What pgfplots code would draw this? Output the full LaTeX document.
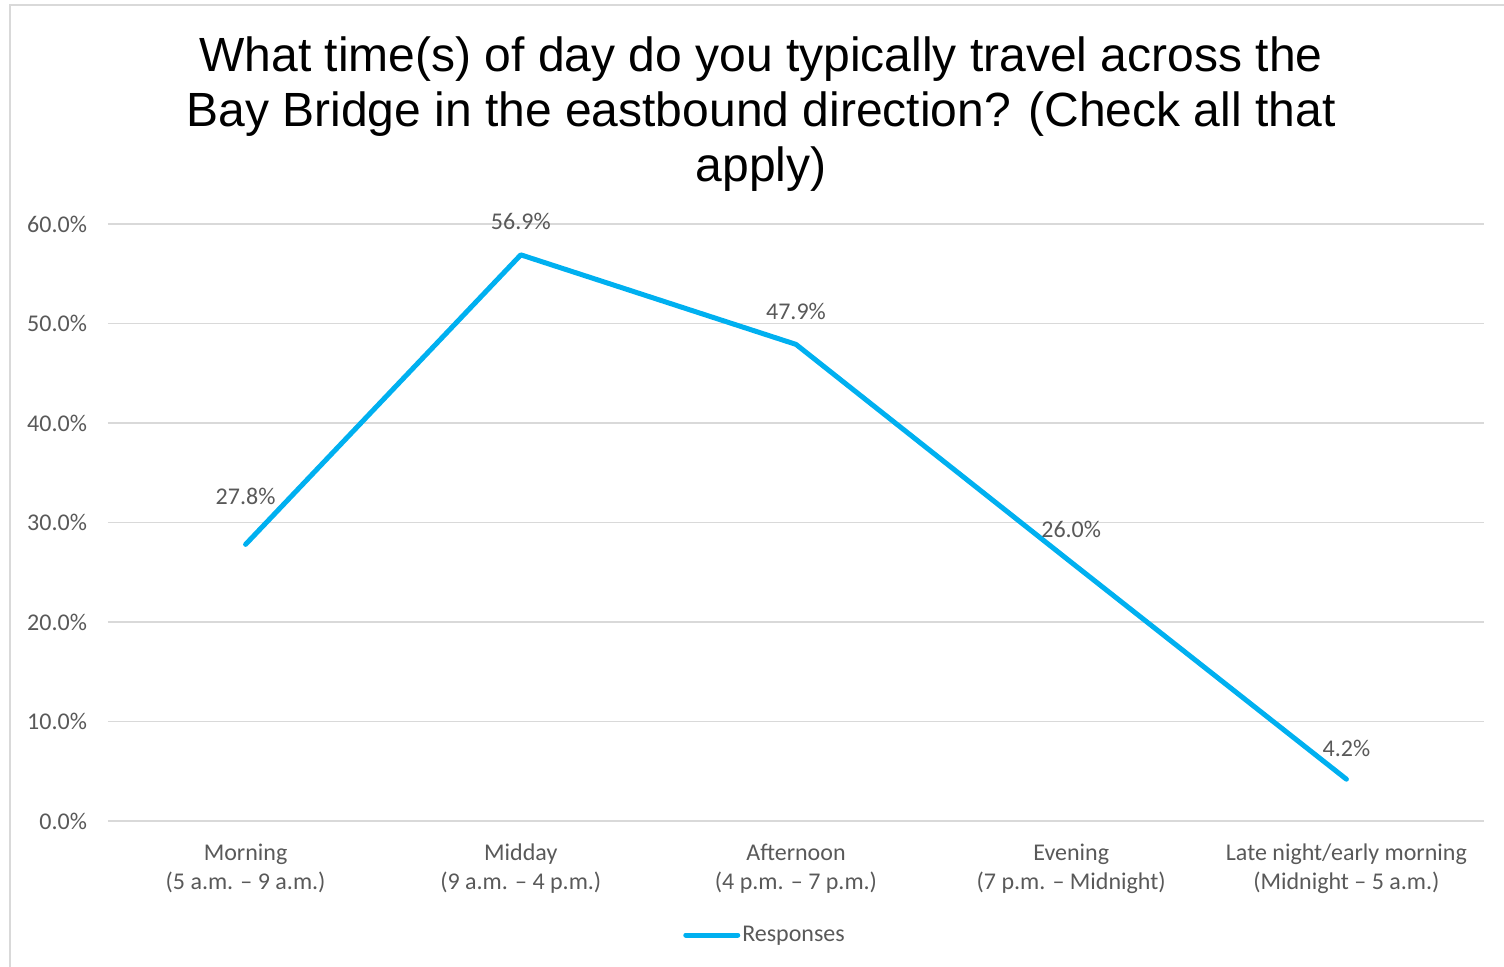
\documentclass[border=0pt]{standalone}
\usepackage{pgfplots}
\pgfplotsset{compat=1.18}
\usepackage{fontspec}
\setmainfont{Carlito}
\newfontfamily\titlefont{Liberation Sans}
\definecolor{linecyan}{HTML}{00B0F0}
\definecolor{txtgray}{HTML}{595959}
\definecolor{gridgray}{HTML}{D9D9D9}

% share of responses per time slot; dy = label offset above the point (pt)
\pgfplotstableread{
x y dy
0 27.8 24
1 56.9 16.5
2 47.9 16.5
3 26.0 16.5
4 4.2 15.5
}\responses

\begin{document}
\begin{tikzpicture}
\useasboundingbox (0,0) rectangle (752pt,483.5pt);
\draw[gridgray, line width=1pt] (5pt,-5pt) rectangle (770pt,481pt);
\node[font=\titlefont\fontsize{24}{27.5}\selectfont, align=center, text=black]
  at (380.5pt,426.5pt) {What time(s) of day do you typically travel across the\\
  Bay Bridge in the eastbound direction? (Check all that\\ apply)};
\begin{axis}[
  at={(54pt,73pt)}, anchor=south west,
  scale only axis, width=688pt, height=298.5pt,
  xmin=-0.5, xmax=4.5, ymin=0, ymax=60,
  axis line style={draw=none},
  major tick length=0pt,
  tick style={draw=none},
  ymajorgrids, grid style={gridgray, line width=0.75pt},
  ytick={0,10,...,60},
  yticklabel={\pgfmathprintnumber[fixed,fixed zerofill,precision=1]{\tick}\%},
  yticklabel style={font=\fontsize{12}{14}\selectfont, text=txtgray, xshift=-7pt},
  xtick={0,...,4},
  xticklabels={{Morning\\(5 a.m. – 9 a.m.)},{Midday\\(9 a.m. – 4 p.m.)},{Afternoon\\(4 p.m. – 7 p.m.)},{Evening\\(7 p.m. – Midnight)},{Late night/early morning\\(Midnight – 5 a.m.)}},
  xticklabel style={font=\fontsize{12}{14.5}\selectfont, text=txtgray, align=center, yshift=-8pt},
  /pgf/number format/assume math mode=true,
  legend style={at={(0.4775,-0.191)}, anchor=center, draw=none, fill=none,
    font=\fontsize{12}{14}\selectfont, text=txtgray, nodes={inner xsep=1pt}},
  legend image code/.code={\draw[#1, line width=2.5pt, line cap=round] (0pt,0pt) -- (26pt,0pt);},
  clip=false,
]
\addplot[linecyan, line width=2.5pt, line join=round, line cap=round,
  visualization depends on={\thisrow{dy}\as\dy},
  point meta=explicit,
  nodes near coords={\pgfmathprintnumber[fixed,fixed zerofill,precision=1]{\pgfplotspointmeta}\%},
  every node near coord/.style={anchor=center, yshift=\dy pt, font=\fontsize{12}{14}\selectfont, text=txtgray},
] table[x=x, y=y, meta=y] {\responses};
\addlegendentry{Responses}
\end{axis}
\end{tikzpicture}
\end{document}
